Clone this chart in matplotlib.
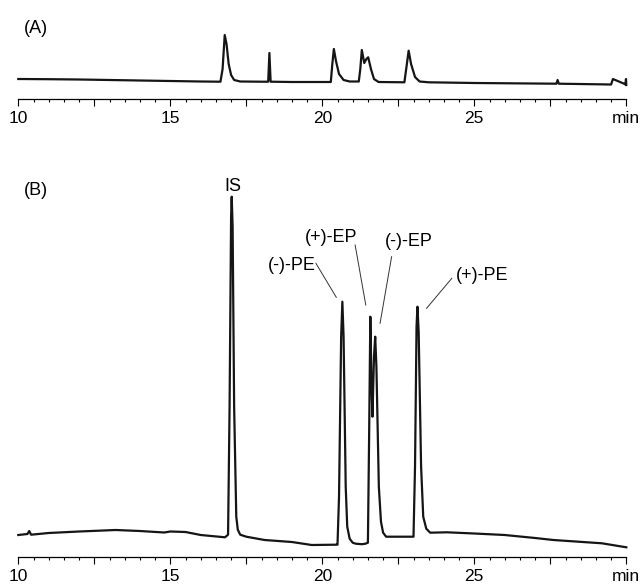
#!/usr/bin/env python3
"""Two-panel chromatogram: (A) blank/sample trace, (B) spiked trace with peak labels."""

import matplotlib
matplotlib.use('Agg')
import matplotlib.pyplot as plt
from matplotlib.ticker import MultipleLocator, FixedLocator

plt.rcParams['font.family'] = ['Liberation Sans', 'DejaVu Sans']

# panel A trace (time in min, signal in arbitrary units)
time_a = [10.0, 11.0, 12.0, 13.0, 14.0, 15.0, 16.0, 16.65, 16.72, 16.79, 16.85,
          16.92, 17.0, 17.1, 17.3, 18.0, 18.22, 18.26, 18.30, 19.0, 20.0, 20.28,
          20.33, 20.38, 20.45, 20.55, 20.7, 20.9, 21.2, 21.25, 21.30, 21.38,
          21.45, 21.51, 21.6, 21.7, 21.85, 22.7, 22.76, 22.84, 22.92, 23.05,
          23.2, 23.5, 25.0, 27.7, 27.74, 27.78, 29.5, 29.56, 29.95, 29.97,
          29.99, 30.0]
signal_a = [20.0, 19.8, 19.5, 19.0, 18.5, 18.0, 17.5, 17.3, 30.0, 64.0, 55.0,
            35.0, 24.0, 19.0, 17.5, 17.3, 17.3, 46.0, 17.3, 17.0, 17.0, 17.0,
            35.0, 50.0, 38.0, 25.0, 19.0, 17.5, 17.5, 30.0, 49.0, 36.0,
            40.0, 41.7, 30.0, 20.0, 17.0, 16.7, 30.0, 48.3, 35.0, 22.0,
            17.5, 16.7, 16.0, 15.3, 19.0, 15.3, 14.5, 20.0, 15.0, 14.5,
            20.0, 14.0]

# panel B trace
time_b = [10.0, 10.3, 10.36, 10.42, 11.0, 12.0, 13.2, 14.0, 14.8, 15.0, 15.5,
          16.0, 16.8, 16.9, 16.95, 17.0, 17.02, 17.05, 17.1, 17.17, 17.22,
          17.3, 17.5, 18.1, 19.0, 19.65, 20.45, 20.5, 20.55, 20.62, 20.66,
          20.7, 20.77, 20.82, 20.9, 21.0, 21.1, 21.3, 21.42, 21.5, 21.54,
          21.58, 21.62, 21.65, 21.7, 21.74, 21.78, 21.86, 21.93, 22.0, 22.1,
          23.0, 23.05, 23.1, 23.13, 23.17, 23.25, 23.32, 23.42, 23.55, 24.1,
          25.0, 26.0, 27.0, 27.6, 29.2, 30.0]
signal_b = [21.7, 22.7, 25.7, 22.0, 23.7, 25.2, 26.7, 25.7, 24.2, 25.2, 24.7,
            21.7, 19.4, 22.0, 150.0, 340.0, 360.0, 330.0, 150.0, 40.0, 27.0,
            22.0, 20.0, 16.7, 14.7, 11.7, 12.0, 12.0, 60.0, 220.0, 255.0,
            220.0, 70.0, 30.0, 18.0, 14.0, 13.0, 12.5, 13.0, 14.0, 120.0,
            240.0, 170.0, 140.0, 200.0, 220.0, 190.0, 70.0, 35.0, 24.0, 20.0,
            20.0, 90.0, 230.0, 250.0, 225.0, 90.0, 40.0, 28.0, 24.0, 24.4,
            23.2, 21.7, 18.7, 16.7, 13.4, 9.4]

tick_labels = ['10', '', '15', '', '20', '', '25', '', 'min']
major_ticks = [10, 12.5, 15, 17.5, 20, 22.5, 25, 27.5, 30]

peak_names = ['IS', '(-)-PE', '(+)-EP', '(-)-EP', '(+)-PE']


def style_axis(ax, ytop):
    ax.set_xlim(10, 30)
    ax.set_ylim(0, ytop)
    for side in ('left', 'top', 'right'):
        ax.spines[side].set_visible(False)
    ax.spines['bottom'].set_linewidth(0.9)
    ax.set_yticks([])
    ax.xaxis.set_major_locator(FixedLocator(major_ticks))
    ax.set_xticklabels(tick_labels)
    ax.xaxis.set_minor_locator(MultipleLocator(0.5))
    ax.tick_params(axis='x', which='major', length=4.8, width=0.8,
                   pad=3.8, labelsize=12.5)
    ax.tick_params(axis='x', which='minor', length=2.4, width=0.8)
    ax.patch.set_visible(False)


def main():
    fig = plt.figure(figsize=(6.42, 5.85), dpi=100)

    left = 18.3 / 642
    width = 608 / 642

    ax_a = fig.add_axes([left, 1 - 99 / 585, width, 84 / 585])
    ax_a.plot(time_a, signal_a, color='#151515', lw=1.6, clip_on=False)
    style_axis(ax_a, 84)

    ax_b = fig.add_axes([left, 1 - 556.7 / 585, width, 386.7 / 585])
    ax_b.plot(time_b, signal_b, color='#151515', lw=1.6, clip_on=False)
    style_axis(ax_b, 386.7)

    fig.text(24 / 642, 1 - 28.5 / 585, '(A)', fontsize=13, ha='left', va='center')
    fig.text(24 / 642, 1 - 191 / 585, '(B)', fontsize=13, ha='left', va='center')

    # peak labels: (text pos, ha, leader start, leader end)
    layout = [
        ((17.05, 370.7), 'center', None, None),
        ((19.79, 291.7), 'right', (19.79, 293.4), (20.46, 259.4)),
        ((20.29, 319.2), 'center', (21.08, 311.7), (21.43, 251.7)),
        ((22.84, 315.7), 'center', (22.28, 300.0), (21.90, 233.4)),
        ((25.25, 281.7), 'center', (24.26, 278.4), (23.43, 248.4)),
    ]
    for name, (pos, ha, p0, p1) in zip(peak_names, layout):
        ax_b.text(pos[0], pos[1], name, fontsize=13, ha=ha, va='center')
        if p0 is not None:
            ax_b.plot([p0[0], p1[0]], [p0[1], p1[1]], color='#333333',
                      lw=0.7, clip_on=False)

    fig.savefig('out.png', dpi=100)
    plt.close(fig)


if __name__ == '__main__':
    main()
